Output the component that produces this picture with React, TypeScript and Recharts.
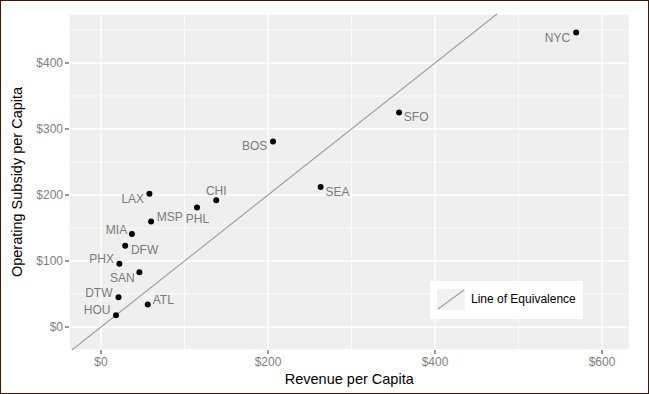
import React from "react";
import {
  ScatterChart,
  Scatter,
  XAxis,
  YAxis,
  CartesianGrid,
  ReferenceLine,
  Label,
} from "recharts";

const CODES = ["NYC", "SFO", "BOS", "SEA", "CHI", "PHL", "LAX", "MSP", "MIA", "DFW", "PHX", "SAN", "DTW", "ATL", "HOU"];
const REVENUE = [569, 357, 206, 263, 138, 115, 58, 60, 37, 29, 22, 46, 21, 56, 18];
const SUBSIDY = [446, 325, 281, 212, 192, 181, 202, 160, 141, 123, 96, 83, 45, 34, 18];

const X_TICKS = [0, 200, 400, 600];
const Y_TICKS = [0, 100, 200, 300, 400];
const X_MINOR = [100, 300, 500];
const Y_MINOR = [50, 150, 250, 350, 450];

const X_DOMAIN: [number, number] = [-38.3, 632.9];
const Y_DOMAIN: [number, number] = [-34.8, 474.2];

// label placement relative to each dot (ggrepel-ish)
const LABEL_POS: Record<string, { anchor: "start" | "end" | "middle"; dx: number; dy: number }> = {
  NYC: { anchor: "end", dx: -6, dy: 4.6 },
  SFO: { anchor: "start", dx: 4.7, dy: 4.4 },
  BOS: { anchor: "end", dx: -5.7, dy: 4.4 },
  SEA: { anchor: "start", dx: 5, dy: 5 },
  CHI: { anchor: "middle", dx: 0, dy: -9.3 },
  PHL: { anchor: "middle", dx: 0.5, dy: 11 },
  LAX: { anchor: "end", dx: -5.3, dy: 4.7 },
  MSP: { anchor: "start", dx: 5.6, dy: -4.6 },
  MIA: { anchor: "end", dx: -4.7, dy: -4 },
  DFW: { anchor: "start", dx: 5.7, dy: 4.3 },
  PHX: { anchor: "end", dx: -5.3, dy: -4.7 },
  SAN: { anchor: "end", dx: -4.6, dy: 5 },
  DTW: { anchor: "end", dx: -6, dy: -4.6 },
  ATL: { anchor: "start", dx: 5, dy: -5 },
  HOU: { anchor: "end", dx: -5.6, dy: -5 },
};

const data = CODES.map((code, i) => ({ code, revenue: REVENUE[i], subsidy: SUBSIDY[i] }));

const FONT = '"Liberation Sans", Arial, Helvetica, sans-serif';

const Dot = (props: any) => {
  const { cx, cy, payload } = props;
  const pos = LABEL_POS[payload.code];
  return (
    <g>
      <circle cx={cx} cy={cy} r={3} fill="#000" />
      <text
        x={cx + pos.dx}
        y={cy + pos.dy}
        dy="0.36em"
        textAnchor={pos.anchor}
        fontSize={12}
        fill="#7a7a7a"
        fontFamily={FONT}
      >
        {payload.code}
      </text>
    </g>
  );
};

const fmt = (v: number) => `$${v}`;

export default function App() {
  const lo = Math.max(X_DOMAIN[0], Y_DOMAIN[0]);
  const hi = Math.min(X_DOMAIN[1], Y_DOMAIN[1]);
  return (
    <div style={{ position: "absolute", top: 0, left: 0, width: 649, height: 394, background: "#fff" }}>
      <ScatterChart
        width={649}
        height={394}
        margin={{ top: 14, right: 19.5, bottom: 4, left: 19 }}
        style={{ fontFamily: FONT }}
      >
        <CartesianGrid fill="#EFEFEF" stroke="#fff" strokeWidth={1.4} />
        {X_MINOR.map((v) => (
          <ReferenceLine key={`xm${v}`} x={v} stroke="#fff" strokeWidth={0.7} />
        ))}
        {Y_MINOR.map((v) => (
          <ReferenceLine key={`ym${v}`} y={v} stroke="#fff" strokeWidth={0.7} />
        ))}
        <ReferenceLine
          segment={[
            { x: lo, y: lo },
            { x: hi, y: hi },
          ]}
          stroke="#9e9e9e"
          strokeWidth={1.1}
          ifOverflow="visible"
        />
        <XAxis
          type="number"
          dataKey="revenue"
          domain={X_DOMAIN}
          ticks={X_TICKS}
          allowDataOverflow
          tickFormatter={fmt}
          axisLine={false}
          tickLine={{ stroke: "#333" }}
          tickSize={4}
          tickMargin={3}
          tick={{ fill: "#7f7f7f", fontSize: 12 }}
          height={40}
        >
          <Label
            content={({ viewBox }: any) => (
              <text
                x={viewBox.x + viewBox.width / 2}
                y={379}
                dy="0.36em"
                textAnchor="middle"
                fontSize={14.5}
                fill="#000"
                fontFamily={FONT}
              >
                Revenue per Capita
              </text>
            )}
          />
        </XAxis>
        <YAxis
          type="number"
          dataKey="subsidy"
          domain={Y_DOMAIN}
          ticks={Y_TICKS}
          allowDataOverflow
          tickFormatter={fmt}
          axisLine={false}
          tickLine={{ stroke: "#333" }}
          tickSize={4}
          tickMargin={2}
          tick={{ fill: "#7f7f7f", fontSize: 12 }}
          width={50}
        >
          <Label
            content={({ viewBox }: any) => {
              const cy = viewBox.y + viewBox.height / 2;
              return (
                <text
                  x={17}
                  y={cy}
                  dy="0.36em"
                  textAnchor="middle"
                  fontSize={14.5}
                  fill="#000"
                  fontFamily={FONT}
                  transform={`rotate(-90, 17, ${cy})`}
                >
                  Operating Subsidy per Capita
                </text>
              );
            }}
          />
        </YAxis>
        <Scatter data={data} shape={<Dot />} isAnimationActive={false} />
      </ScatterChart>
      <div
        style={{
          position: "absolute",
          left: 430,
          top: 281,
          width: 153,
          height: 38,
          background: "#fff",
          fontFamily: FONT,
          fontSize: 12,
          color: "#000",
        }}
      >
        <svg width={28} height={21} style={{ position: "absolute", left: 7, top: 8 }}>
          <rect x={0} y={0} width={28} height={21} fill="#F2F2F2" />
          <line x1={1} y1={20} x2={27} y2={1} stroke="#9e9e9e" strokeWidth={1.1} />
        </svg>
        <span style={{ position: "absolute", left: 41, top: 11, lineHeight: "14px", whiteSpace: "nowrap" }}>
          Line of Equivalence
        </span>
      </div>
      <div
        style={{
          position: "absolute",
          inset: 0,
          border: "1px solid #3d1a08",
          pointerEvents: "none",
        }}
      />
    </div>
  );
}
